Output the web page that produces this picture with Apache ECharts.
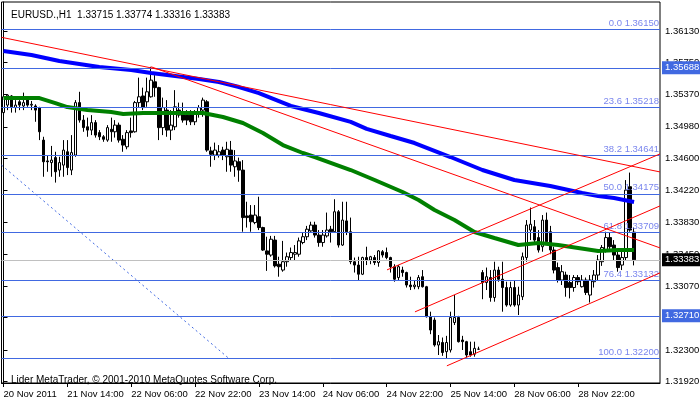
<!DOCTYPE html>
<html><head><meta charset="utf-8">
<script src="https://cdn.jsdelivr.net/npm/echarts@6/dist/echarts.min.js"></script>
<style>html,body{margin:0;padding:0;background:#fff}#c{width:700px;height:402px}</style>
</head><body><div id="c"></div>
<script>
const symbolName = 'EURUSD.,H1';
const copyrightText = 'Lider MetaTrader, \u00a9 2001-2010 MetaQuotes Software Corp.';
const timeLabels = ['20 Nov 2011','21 Nov 14:00','22 Nov 06:00','22 Nov 22:00','23 Nov 14:00','24 Nov 06:00','24 Nov 22:00','25 Nov 14:00','28 Nov 06:00','28 Nov 22:00'];
const labelEvery = 16;
const slotCount = 165;
const yTicks = [1.3613,1.3575,1.3537,1.3498,1.3460,1.3422,1.3383,1.3345,1.3307,1.3269,1.3230,1.3192];

const opens = [1.3515,1.3524,1.3535,1.3521,1.3528,1.3523,1.3530,1.3524,1.3523,1.3521,
1.3482,1.3457,1.3455,1.3461,1.3446,1.3452,1.3468,1.3446,1.3464,1.3527,
1.3506,1.3498,1.3494,1.3503,1.3491,1.3486,1.3482,1.3495,1.3492,1.3500,
1.3483,1.3474,1.3493,1.3492,1.3527,1.3535,1.3528,1.3534,1.3552,1.3545,
1.3497,1.3518,1.3494,1.3498,1.3518,1.3516,1.3512,1.3512,1.3504,1.3516,
1.3518,1.3528,1.3469,1.3464,1.3464,1.3470,1.3462,1.3470,1.3450,1.3456,
1.3446,1.3391,1.3392,1.3383,1.3390,1.3377,1.3349,1.3344,1.3362,1.3333,
1.3326,1.3336,1.3341,1.3345,1.3345,1.3359,1.3366,1.3373,1.3380,1.3368,
1.3359,1.3367,1.3375,1.3372,1.3396,1.3356,1.3385,1.3372,1.3336,1.3332,
1.3321,1.3341,1.3338,1.3341,1.3335,1.3348,1.3347,1.3341,1.3330,1.3317,
1.3326,1.3323,1.3308,1.3306,1.3306,1.3318,1.3306,1.3270,1.3266,1.3236,
1.3239,1.3228,1.3230,1.3263,1.3269,1.3242,1.3240,1.3228,1.3225,1.3231,
1.3323,1.3311,1.3317,1.3293,1.3326,1.3315,1.3305,1.3284,1.3305,1.3284,
1.3294,1.3341,1.3374,1.3378,1.3365,1.3354,1.3386,1.3372,1.3350,1.3329,
1.3314,1.3320,1.3311,1.3305,1.3317,1.3306,1.3314,1.3296,1.3312,1.3320,
1.3336,1.3350,1.3365,1.3356,1.3344,1.3332,1.3341,1.3426,1.33715];
const closes = [1.3534,1.3536,1.3522,1.3524,1.3524,1.3527,1.3524,1.3525,1.3518,1.3492,
1.3456,1.3456,1.3458,1.3444,1.3455,1.3470,1.3449,1.3467,1.3527,1.3506,
1.3497,1.3494,1.3503,1.3488,1.3486,1.3483,1.3497,1.3492,1.3500,1.3482,
1.3476,1.3491,1.3491,1.3527,1.3534,1.3521,1.3540,1.3554,1.3545,1.3497,
1.3521,1.3494,1.3500,1.3522,1.3512,1.3506,1.3506,1.3504,1.3516,1.3521,
1.3530,1.3470,1.3465,1.3470,1.3468,1.3464,1.3471,1.3452,1.3457,1.3446,
1.3389,1.3389,1.3384,1.3392,1.3377,1.3350,1.3345,1.3363,1.3331,1.3330,
1.3336,1.3342,1.3347,1.3347,1.3361,1.3366,1.3375,1.3380,1.3368,1.3359,
1.3368,1.3374,1.3372,1.3396,1.3356,1.3386,1.3372,1.3336,1.3332,1.3321,
1.3341,1.3338,1.3342,1.3335,1.3349,1.3344,1.3341,1.3330,1.3315,1.3330,
1.3323,1.3308,1.3306,1.3308,1.3317,1.3306,1.3270,1.3254,1.3236,1.3240,
1.3227,1.3239,1.3269,1.3269,1.3240,1.3240,1.3224,1.3224,1.3232,1.3231,
1.3311,1.3318,1.3293,1.3326,1.3315,1.3305,1.3284,1.3305,1.3284,1.3296,
1.3342,1.3380,1.3381,1.3362,1.3350,1.3386,1.3360,1.3350,1.3326,1.3314,
1.3324,1.3305,1.3305,1.3317,1.3312,1.3314,1.3299,1.3314,1.3320,1.3338,
1.3353,1.3365,1.3354,1.3344,1.3329,1.3341,1.3422,1.3374,1.33383];
const highs = [1.3536,1.3537,1.3536,1.3530,1.3530,1.3539,1.3531,1.3529,1.3525,1.3522,
1.3486,1.3464,1.3475,1.3468,1.3462,1.3482,1.3482,1.3488,1.3530,1.3540,
1.3512,1.3509,1.3512,1.3506,1.3494,1.3488,1.3500,1.3509,1.3506,1.3503,
1.3488,1.3494,1.3509,1.3529,1.3557,1.3545,1.3557,1.3570,1.3560,1.3546,
1.3533,1.3530,1.3518,1.3542,1.3527,1.3527,1.3518,1.3518,1.3518,1.3524,
1.3533,1.3530,1.3474,1.3479,1.3476,1.3474,1.3480,1.3481,1.3470,1.3461,
1.3458,1.3408,1.3404,1.3404,1.3414,1.3378,1.3366,1.3367,1.3367,1.3342,
1.3361,1.3347,1.3353,1.3356,1.3365,1.3371,1.3379,1.3384,1.3384,1.3374,
1.3374,1.3395,1.3379,1.3411,1.3398,1.3408,1.3408,1.3389,1.3341,1.3342,
1.3342,1.3354,1.3343,1.3344,1.3350,1.3350,1.3353,1.3342,1.3333,1.3332,
1.3330,1.3324,1.3318,1.3313,1.3320,1.3326,1.3307,1.3276,1.3269,1.3248,
1.3245,1.3247,1.3276,1.3296,1.3271,1.3247,1.3241,1.3240,1.3240,1.3234,
1.3326,1.3329,1.3326,1.3336,1.3330,1.3336,1.3312,1.3312,1.3314,1.3306,
1.3347,1.3386,1.3401,1.3386,1.3374,1.3392,1.3395,1.3379,1.3354,1.3335,
1.3332,1.3324,1.3320,1.3320,1.3320,1.3320,1.3317,1.3320,1.3326,1.3344,
1.3356,1.3372,1.3371,1.3362,1.3348,1.3350,1.3434,1.3443,1.33774];
const lows = [1.3509,1.3518,1.3515,1.3515,1.3518,1.3518,1.3522,1.3518,1.3504,1.3482,
1.3438,1.3444,1.3438,1.3431,1.3438,1.3438,1.3440,1.3440,1.3462,1.3503,
1.3492,1.3486,1.3488,1.3485,1.3482,1.3480,1.3480,1.3480,1.3485,1.3479,
1.3468,1.3471,1.3485,1.3491,1.3521,1.3518,1.3522,1.3533,1.3534,1.3482,
1.3488,1.3486,1.3482,1.3494,1.3509,1.3503,1.3500,1.3500,1.3500,1.3509,
1.3510,1.3468,1.3450,1.3458,1.3461,1.3458,1.3444,1.3444,1.3438,1.3432,
1.3372,1.3377,1.3372,1.3381,1.3374,1.3349,1.3325,1.3342,1.3329,1.3318,
1.3324,1.3330,1.3338,1.3338,1.3342,1.3357,1.3362,1.3372,1.3365,1.3354,
1.3354,1.3365,1.3359,1.3371,1.3353,1.3355,1.3368,1.3333,1.3323,1.3314,
1.3320,1.3332,1.3333,1.3332,1.3330,1.3341,1.3339,1.3323,1.3312,1.3314,
1.3318,1.3305,1.3302,1.3303,1.3303,1.3305,1.3269,1.3249,1.3234,1.3224,
1.3223,1.3220,1.3227,1.3260,1.3239,1.3230,1.3221,1.3222,1.3222,1.3230,
1.3291,1.3302,1.3288,1.3288,1.3312,1.3276,1.3282,1.3282,1.3282,1.3272,
1.3290,1.3336,1.3362,1.3356,1.3347,1.3348,1.3356,1.3345,1.3322,1.3311,
1.3308,1.3294,1.3292,1.3300,1.3308,1.3305,1.3296,1.3287,1.3305,1.3314,
1.3331,1.3347,1.3350,1.3338,1.3324,1.3326,1.3338,1.3372,1.33316];

// moving averages, read as [bar index, price]
const slowMA = [[0,1.35889],[7,1.35841],[14,1.35769],[24,1.35697],[32,1.35661],[37,1.35625],[43,1.35589],[49,1.35553],[54,1.35517],[59,1.35457],[64,1.35385],[69,1.35289],[72,1.35230],[79,1.35145],[87,1.35038],[91,1.34954],[97,1.34869],[103,1.34785],[112,1.34617],[120,1.34461],[128,1.34341],[137,1.34269],[145,1.34185],[149,1.34149],[153,1.34125],[158,1.34077]];
const fastMA = [[0,1.35325],[9,1.35325],[13,1.35265],[16,1.35217],[21,1.35181],[27,1.35158],[30,1.35134],[35,1.35146],[46,1.35146],[50,1.35146],[55,1.35097],[60,1.35025],[65,1.34905],[70,1.34761],[75,1.34665],[78,1.34617],[87,1.34461],[93,1.34341],[100,1.34197],[104,1.34101],[108,1.33981],[113,1.33861],[118,1.33717],[123,1.33645],[129,1.33561],[134,1.33585],[139,1.33561],[144,1.33525],[149,1.33489],[154,1.33501],[158,1.33501]];

// trend lines [bar index, price] endpoints
const trendLines = [
  [[-0.5,1.36054],[164.5,1.34438]],
  [[37,1.3570],[164.5,1.33526]],
  [[111.1,1.32110],[164.5,1.33226]],
  [[103.1,1.32758],[164.5,1.34030]],
  [[96.1,1.33262],[164.5,1.34654]]
];
const fiboBaseLine = [[-0.5,1.34520],[56.3,1.32206]];

const fiboLevels = [0.0, 23.6, 38.2, 50.0, 61.8, 76.4, 100.0];
const fiboPrices = [1.36150, 1.35218, 1.34641, 1.34175, 1.33709, 1.33132, 1.32200];
const hLines = [1.35688, 1.32710];

const FONT = "'Liberation Sans',Arial,sans-serif";
const FS = 10;
const AFS = 9.5;
const n = opens.length;
const last = n - 1;
const categories = Array.from({length: slotCount}, (_, i) => String(i));
const candles = opens.map((o, i) => [o, closes[i], lows[i], highs[i]]);
const header = symbolName + '  ' + [opens[last], highs[last], lows[last], closes[last]].map(v => v.toFixed(5)).join(' ');
const showTick = (idx) => idx % labelEvery === 0 && (idx / labelEvery) < timeLabels.length;

const lineBlue = '#4169e1';
const markData = [];
fiboLevels.forEach((lv, k) => {
  markData.push({
    yAxis: fiboPrices[k],
    lineStyle: {color: lineBlue, width: 1, type: 'solid'},
    label: {show: true, position: 'insideEndTop', distance: [1, 1], formatter: lv.toFixed(1) + ' ' + fiboPrices[k].toFixed(5),
      color: '#7a86ee', fontFamily: FONT, fontSize: AFS}
  });
});
hLines.forEach(p => {
  markData.push({
    yAxis: p,
    lineStyle: {color: lineBlue, width: 1, type: 'solid'},
    label: {show: true, position: 'end', distance: 2, formatter: p.toFixed(5), color: '#fff', backgroundColor: lineBlue,
      padding: [2, 6, 1, 3], fontFamily: FONT, fontSize: AFS}
  });
});
markData.push({
  yAxis: closes[last],
  lineStyle: {color: '#c0c0c0', width: 1, type: 'solid'},
  label: {show: true, position: 'end', distance: 2, formatter: closes[last].toFixed(5), color: '#fff', backgroundColor: '#000',
    padding: [2, 6, 1, 3], fontFamily: FONT, fontSize: AFS}
});

const series = [
  {
    type: 'candlestick', xAxisIndex: 0, yAxisIndex: 0, data: candles, barWidth: 3, z: 2,
    itemStyle: {color: '#ffffff', color0: '#000000', borderColor: '#000000', borderColor0: '#000000', borderWidth: 1},
    animation: false, silent: true,
    markLine: {symbol: 'none', silent: true, animation: false, precision: 5, data: markData}
  },
  {type: 'line', xAxisIndex: 1, data: slowMA, showSymbol: false, lineStyle: {color: '#0000ff', width: 4}, z: 3, animation: false, silent: true},
  {type: 'line', xAxisIndex: 1, data: fastMA, showSymbol: false, lineStyle: {color: '#008000', width: 4}, z: 3, animation: false, silent: true},
  {type: 'line', xAxisIndex: 1, data: fiboBaseLine, showSymbol: false, lineStyle: {color: lineBlue, width: 1, type: [2, 3]}, z: 4, animation: false, silent: true}
];
trendLines.forEach(seg => series.push({type: 'line', xAxisIndex: 1, data: seg, showSymbol: false,
  lineStyle: {color: '#ff0000', width: 1}, z: 5, animation: false, silent: true}));

const chart = echarts.init(document.getElementById('c'), null, {renderer: 'canvas'});
chart.setOption({
  animation: false,
  backgroundColor: '#ffffff',
  title: [
    {text: header, left: 6, top: 5, textStyle: {fontFamily: FONT, fontSize: FS, fontWeight: 'normal', color: '#000'}},
    {text: copyrightText, left: 6, top: 370, textStyle: {fontFamily: FONT, fontSize: FS, fontWeight: 'normal', color: '#000'}}
  ],
  grid: {left: 1.5, right: 40, top: 2, bottom: 19, show: true, borderColor: '#000', borderWidth: 1, containLabel: false, outerBoundsMode: 'none'},
  xAxis: [
    {type: 'category', data: categories, boundaryGap: true,
      axisLine: {show: true, lineStyle: {color: '#000'}},
      axisTick: {show: true, alignWithLabel: true, interval: showTick, length: 4, lineStyle: {color: '#000'}},
      axisLabel: {interval: 0, hideOverlap: false, showMaxLabel: true,
        formatter: (v, idx) => showTick(idx) ? timeLabels[idx / labelEvery] : '', align: 'left',
        margin: 6, color: '#000', fontFamily: FONT, fontSize: AFS},
      splitLine: {show: false}},
    {type: 'value', min: -0.5, max: slotCount - 0.5, show: false}
  ],
  yAxis: [{
    type: 'value', position: 'right', min: 1.31904, max: 1.36478, scale: true,
    axisLine: {show: true, lineStyle: {color: '#000'}},
    axisTick: {show: true, length: 4, customValues: yTicks, lineStyle: {color: '#000'}},
    axisLabel: {customValues: yTicks, formatter: v => v.toFixed(5), margin: 5, color: '#000', fontFamily: FONT, fontSize: AFS},
    splitLine: {show: false}
  }],
  series: series
});
</script></body></html>
